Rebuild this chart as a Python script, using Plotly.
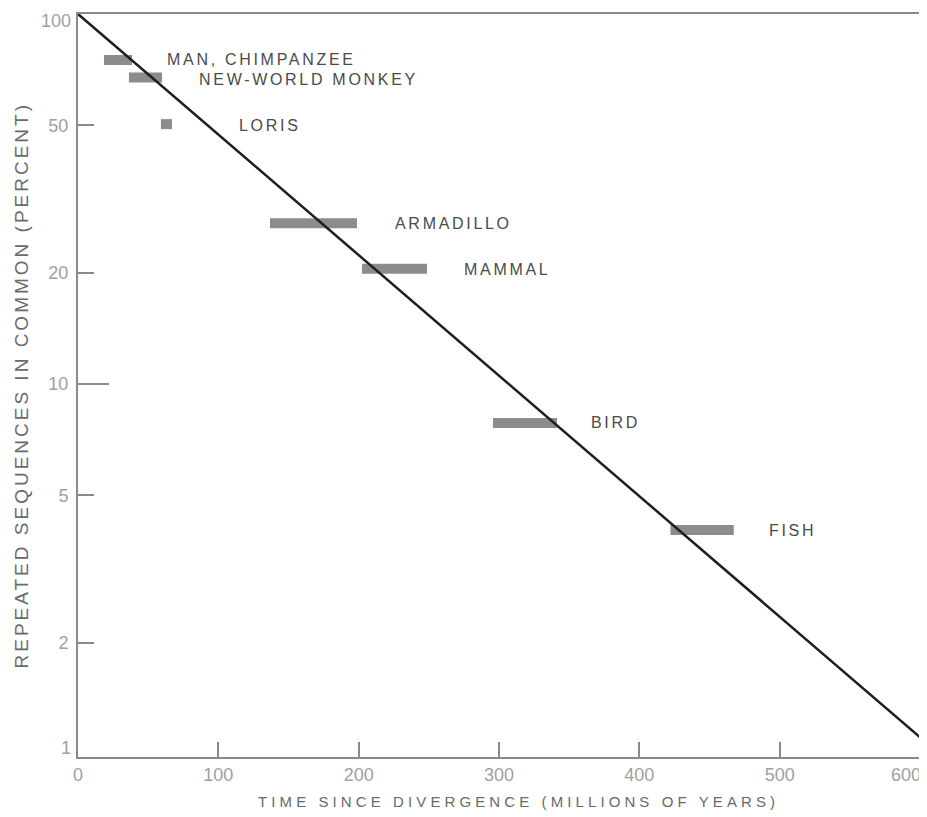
import math
import plotly.graph_objects as go

# ---- data ----
species = ["MAN, CHIMPANZEE", "NEW-WORLD MONKEY", "LORIS", "ARMADILLO", "MAMMAL", "BIRD", "FISH"]
x_start = [18.5, 36.3, 59.1, 136.8, 202.4, 295.7, 422.2]
x_end = [38.5, 59.9, 67.0, 198.8, 248.7, 341.3, 467.3]
pct_common = [75.1, 67.4, 50.4, 27.2, 20.5, 7.85, 4.03]

fit_x = [0, 600]
fit_y = [100, 1.11]

x_ticks = [0, 100, 200, 300, 400, 500, 600]
y_ticks = [1, 2, 5, 10, 20, 50, 100]

# label placement (pixels to the right of each bar end, vertical nudge)
label_dx = [33, 35, 65, 36, 35, 32, 33]
label_dy = [1, -2, -1, 0, -1, 0, 0]

# ---- build figure ----
seg_x, seg_y = [], []
for a, b, v in zip(x_start, x_end, pct_common):
    seg_x += [a, b, None]
    seg_y += [v, v, None]

fig = go.Figure()
fig.add_trace(go.Scatter(x=seg_x, y=seg_y, mode="lines",
                         line=dict(color="#8c8c8c", width=10), hoverinfo="skip",
                         showlegend=False))
fig.add_trace(go.Scatter(x=fit_x, y=fit_y, mode="lines",
                         line=dict(color="#1e1e1e", width=2.5), showlegend=False))

LS = "letter-spacing:{}px"
TICKFONT = dict(family="Liberation Sans", size=18, color="#a0a0a0")
annos = []
for name, xe, v, dx, dy in zip(species, x_end, pct_common, label_dx, label_dy):
    annos.append(dict(x=xe, y=math.log10(v), yref="y", xref="x",
                      text=f'<span style="{LS.format(2.7)}">{name}</span>',
                      showarrow=False, xanchor="left", yanchor="middle", xshift=dx, yshift=dy,
                      font=dict(family="Liberation Sans", size=16, color="#4a4a4a")))

# corner tick labels sit just inside the frame, as in the reference
annos.append(dict(x=x_ticks[-1], y=0, xref="x", yref="paper", text=str(x_ticks[-1]),
                  showarrow=False, xanchor="right", yanchor="top", xshift=3, yshift=-6,
                  font=TICKFONT))
annos.append(dict(x=0, y=math.log10(y_ticks[-1]), xref="paper", yref="y", text=str(y_ticks[-1]),
                  showarrow=False, xanchor="right", yanchor="top", xshift=-5, yshift=5,
                  font=TICKFONT))
annos.append(dict(x=0, y=math.log10(y_ticks[0]), xref="paper", yref="y", text=str(y_ticks[0]),
                  showarrow=False, xanchor="right", yanchor="bottom", xshift=-5, yshift=-6,
                  font=TICKFONT))

annos.append(dict(x=0.5226, y=0, xref="paper", yref="paper", yshift=-44,
                  text=f'<span style="{LS.format(4.1)}">TIME SINCE DIVERGENCE (MILLIONS OF YEARS)</span>',
                  showarrow=False, xanchor="center", yanchor="middle",
                  font=dict(family="Liberation Sans", size=15, color="#6a6a6a")))
annos.append(dict(x=0, y=0.5, xref="paper", yref="paper", xshift=-57,
                  text=f'<span style="{LS.format(3.0)}">REPEATED SEQUENCES IN COMMON (PERCENT)</span>',
                  showarrow=False, xanchor="center", yanchor="middle", textangle=-90,
                  font=dict(family="Liberation Sans", size=19, color="#6a6a6a")))

inner_y = y_ticks[1:-1]

fig.update_layout(
    width=919, height=809,
    margin=dict(l=70, r=7, t=6, b=60, autoexpand=False),
    paper_bgcolor="white", plot_bgcolor="white",
    showlegend=False,
    annotations=annos,
    xaxis=dict(range=[0, 600], tickvals=x_ticks,
               ticktext=[str(t) for t in x_ticks[:-1]] + [""],
               ticks="inside", ticklen=15, tickwidth=1.5,
               tickcolor="#8a8a8a", showline=True, linecolor="#8a8a8a", linewidth=2,
               mirror=True, showgrid=False, zeroline=False, ticklabelstandoff=0,
               automargin=False, tickfont=TICKFONT),
    yaxis=dict(type="log", range=[-0.008, 2], tickvals=inner_y, ticktext=[str(t) for t in inner_y],
               ticks="inside", ticklen=16, tickwidth=1.5, tickcolor="#8a8a8a",
               showline=True, linecolor="#8a8a8a", linewidth=2, mirror=True,
               showgrid=False, zeroline=False, ticklabelstandoff=4,
               ticklabeloverflow="allow", automargin=False, tickfont=TICKFONT),
    yaxis2=dict(type="log", range=[-0.008, 2], overlaying="y", tickvals=[10], ticks="inside",
                ticklen=31, tickwidth=1.5, tickcolor="#8a8a8a", showticklabels=False,
                showgrid=False, zeroline=False, showline=False, side="left", automargin=False),
)
fig.add_trace(go.Scatter(x=[None], y=[None], yaxis="y2", showlegend=False, hoverinfo="skip"))

fig.write_html("out.html")
